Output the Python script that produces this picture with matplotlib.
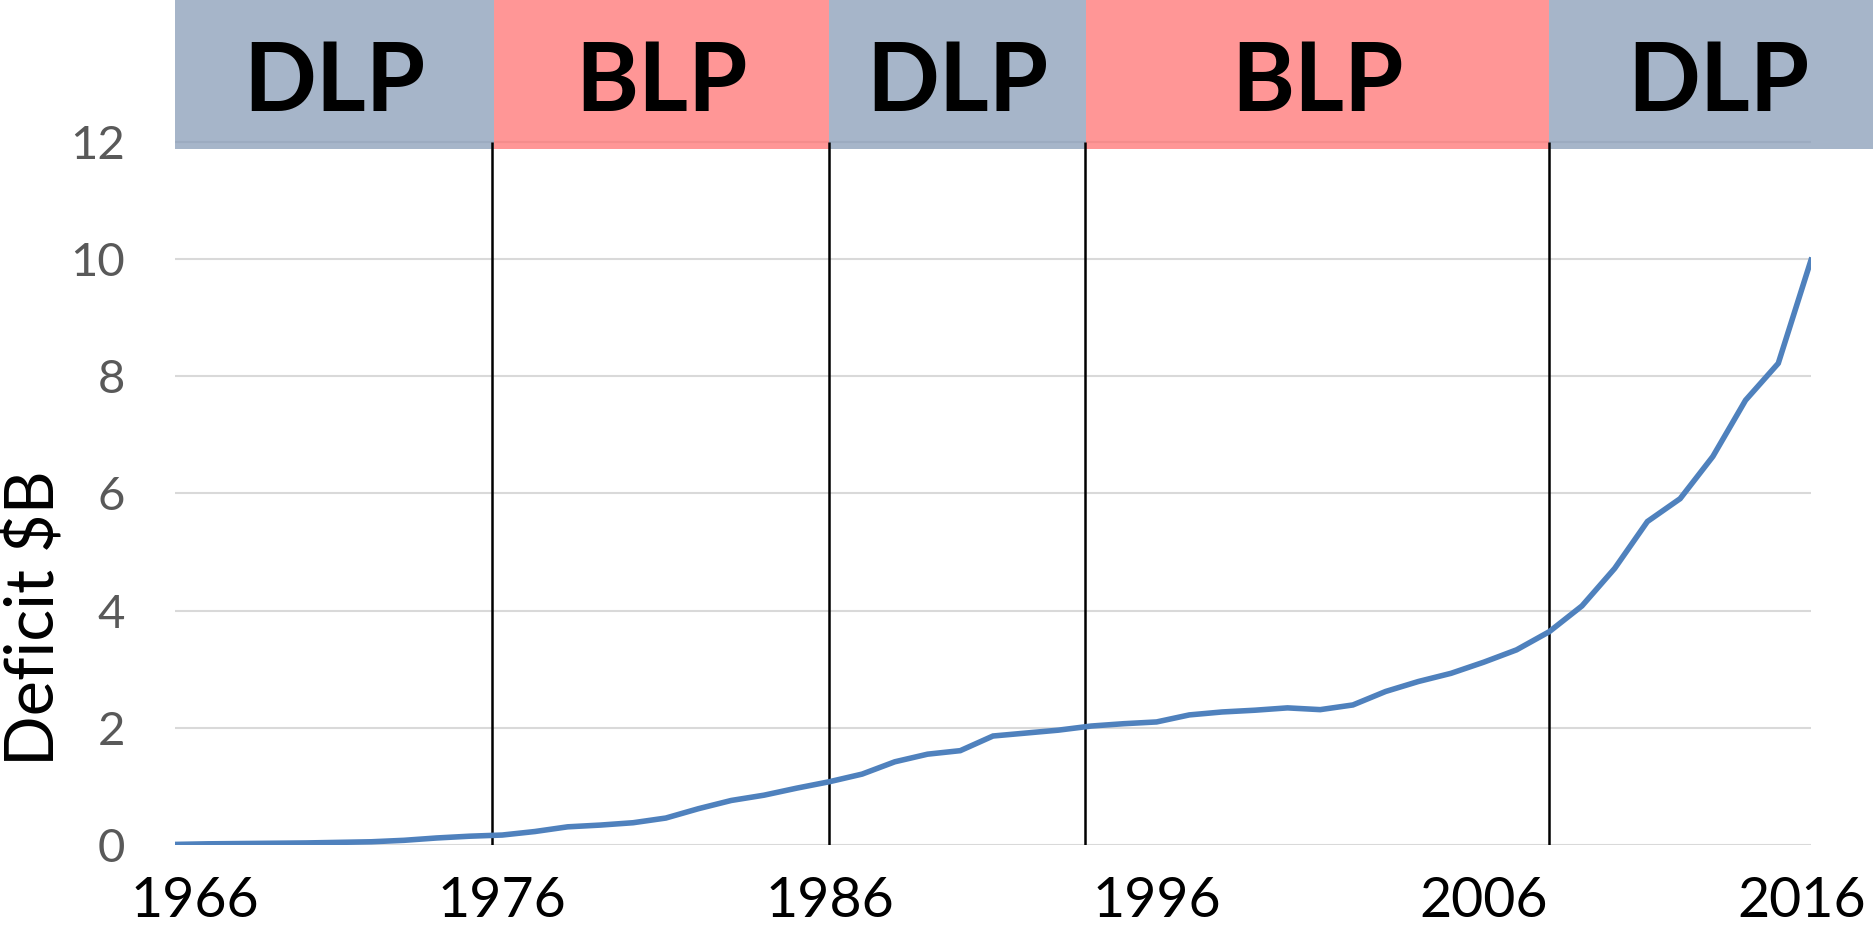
import matplotlib
matplotlib.use("Agg")
import matplotlib.pyplot as plt
from matplotlib.patches import Rectangle
from matplotlib.transforms import ScaledTranslation

years = list(range(1966, 2017))
deficit = [0.01, 0.02, 0.025, 0.03, 0.035, 0.045, 0.055, 0.08, 0.12, 0.15,
           0.17, 0.23, 0.31, 0.34, 0.38, 0.46, 0.62, 0.76, 0.85, 0.97,
           1.08, 1.21, 1.42, 1.55, 1.61, 1.86, 1.91, 1.96, 2.03, 2.07,
           2.10, 2.22, 2.27, 2.30, 2.34, 2.31, 2.39, 2.62, 2.79, 2.93,
           3.12, 3.33, 3.64, 4.08, 4.72, 5.52, 5.91, 6.63, 7.59, 8.22, 9.98]

party_labels = ["DLP", "BLP", "DLP", "BLP", "DLP"]
period_edges = [1966, 1975.75, 1985.98, 1993.83, 2008.0, 2018.35]
change_years = [1975.7, 1985.98, 1993.8, 2008.0]
xtick_years = [1966, 1976, 1986, 1996, 2006, 2016]
ytick_vals = [0, 2, 4, 6, 8, 10, 12]

party_colors = {"DLP": "#889CB8", "BLP": "#FF7373"}

plt.rcParams['font.family'] = ['Lato', 'DejaVu Sans']

W, H = 1874, 930
fig = plt.figure(figsize=(W / 100, H / 100), dpi=100)
ax = fig.add_axes([175 / W, 1 - 845 / H, (1811 - 175) / W, 845 / H])

ax.set_xlim(1966, 2016)
ax.set_ylim(0, 14.42)

for yv in ytick_vals:
    ax.axhline(yv, color="#D9D9D9", lw=1.5, zorder=1)

for i, lab in enumerate(party_labels):
    x0, x1 = period_edges[i], period_edges[i + 1]
    ax.add_patch(Rectangle((x0, 11.88), x1 - x0, 3.0, facecolor=party_colors[lab],
                           edgecolor="none", alpha=0.75, clip_on=False, zorder=2))
    ax.text((x0 + x1) / 2, 12.52, lab, ha="center", va="baseline",
            fontsize=69, fontweight="bold", color="black", zorder=5, clip_on=False)

ax.vlines(change_years, 0, 12, color="black", lw=1.8, zorder=3)

ax.plot(years, deficit, color="#4F81BD", lw=4.0, zorder=4, solid_joinstyle="miter")

ax.set_yticks(ytick_vals)
ax.set_yticklabels([str(v) for v in ytick_vals], fontsize=34, color="#595959")
ax.set_xticks(xtick_years)
ax.set_xticklabels([str(v) for v in xtick_years], fontsize=40, color="black")
ax.tick_params(axis="y", length=0, pad=36)
ax.tick_params(axis="x", length=0, pad=22)

for s in ax.spines.values():
    s.set_visible(False)

xl = ax.get_xticklabels()
xl[0].set_transform(xl[0].get_transform() + ScaledTranslation(20 / 100, 0, fig.dpi_scale_trans))
xl[-1].set_transform(xl[-1].get_transform() + ScaledTranslation(-9 / 100, 0, fig.dpi_scale_trans))

fig.text(34 / W, 1 - 618 / H, "Deficit $B", rotation=90, ha="center", va="center",
         fontsize=48, color="black")

fig.savefig("out.png", dpi=100)
